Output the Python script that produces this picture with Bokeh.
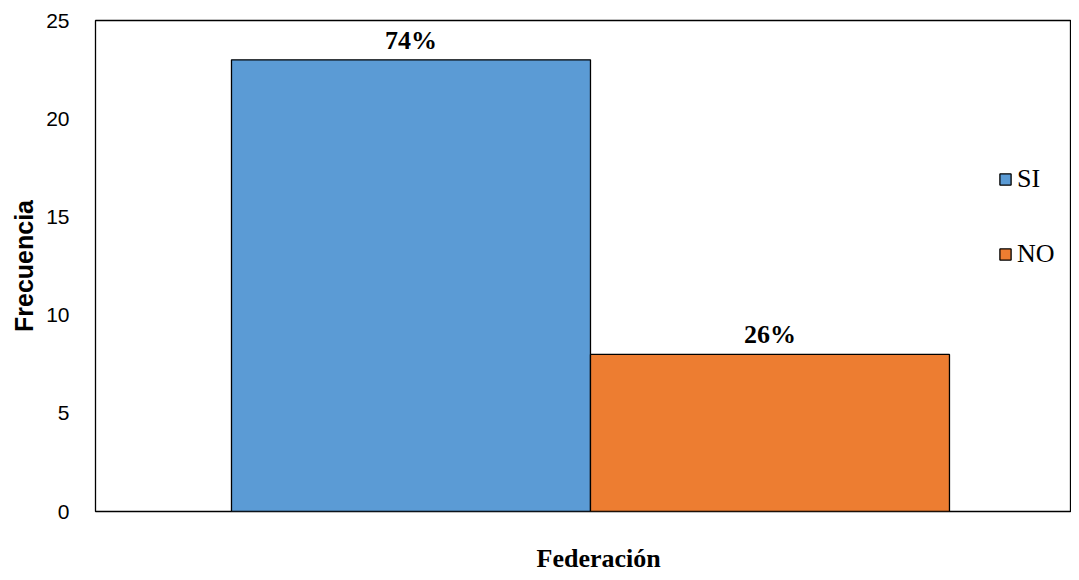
from bokeh.plotting import figure
from bokeh.models import ColumnDataSource, Range1d, FixedTicker, Title, Legend, LegendItem
from bokeh.core.properties import value
from bokeh.embed import file_html
from bokeh.resources import INLINE

categories = ["SI", "NO"]
frecuencia = [23, 8]
porcentajes = ["74%", "26%"]
colors = ["#5B9BD5", "#ED7D31"]
y_ticks = [0, 5, 10, 15, 20, 25]

idx = list(range(len(categories)))
src = ColumnDataSource(dict(x=idx, top=frecuencia, cat=categories, color=colors, pct=porcentajes))

p = figure(width=1071, height=572, output_backend="svg", toolbar_location=None,
           x_range=Range1d(-0.8788, 1.8399), y_range=Range1d(0, 25),
           min_border_left=95, min_border_right=0, min_border_top=20, min_border_bottom=61)

r = p.vbar(x="x", top="top", width=1.0, source=src, fill_color="color",
           line_color="black", line_width=1.3)

p.text(x="x", y="top", text="pct", source=src, text_align="center", text_baseline="bottom",
       y_offset=-5, text_font=value("Liberation Serif"), text_font_style="bold",
       text_font_size="26px", text_color="black")

# x axis kept only as an (invisible) spacer below the frame
p.xaxis.ticker = FixedTicker(ticks=idx)
p.xaxis.major_label_overrides = {i: "" for i in idx}
p.xaxis.major_label_text_font_size = "1px"
p.xaxis.major_label_standoff = 0
p.xaxis.axis_line_color = None
p.xaxis.major_tick_line_color = "white"
p.xaxis.major_tick_line_alpha = 0.01
p.xaxis.minor_tick_line_color = None
p.xaxis.major_tick_in = 0
p.xaxis.major_tick_out = 30

p.xgrid.visible = False
p.ygrid.visible = False
p.yaxis.ticker = FixedTicker(ticks=y_ticks)
p.yaxis.axis_line_color = None
p.yaxis.major_tick_line_color = None
p.yaxis.minor_tick_line_color = None
p.yaxis.major_label_standoff = 20
p.yaxis.major_label_text_font = "Liberation Sans"
p.yaxis.major_label_text_font_size = "21px"
p.yaxis.major_label_text_color = "black"
p.yaxis.axis_label = "Frecuencia"
p.yaxis.axis_label_text_font = "Liberation Sans"
p.yaxis.axis_label_text_font_style = "bold"
p.yaxis.axis_label_text_font_size = "25px"
p.yaxis.axis_label_text_color = "black"
p.yaxis.axis_label_standoff = 5

p.outline_line_color = "black"
p.outline_line_width = 1.3

p.add_layout(Title(text="Federación", align="left", offset=441, vertical_align="bottom", standoff=0,
                   text_font="Liberation Serif", text_font_style="bold",
                   text_font_size="26px", text_color="black"), "below")

legend = Legend(items=[LegendItem(label=categories[i], renderers=[r], index=i) for i in idx],
                location=(903, 242), orientation="vertical", padding=0, margin=0, spacing=45,
                glyph_width=14, glyph_height=14, label_height=20, label_standoff=5,
                label_text_font="Liberation Serif", label_text_font_size="26px",
                label_text_color="black", border_line_color=None, background_fill_alpha=0)
p.add_layout(legend)

open("out.html", "w").write(file_html(p, INLINE))
